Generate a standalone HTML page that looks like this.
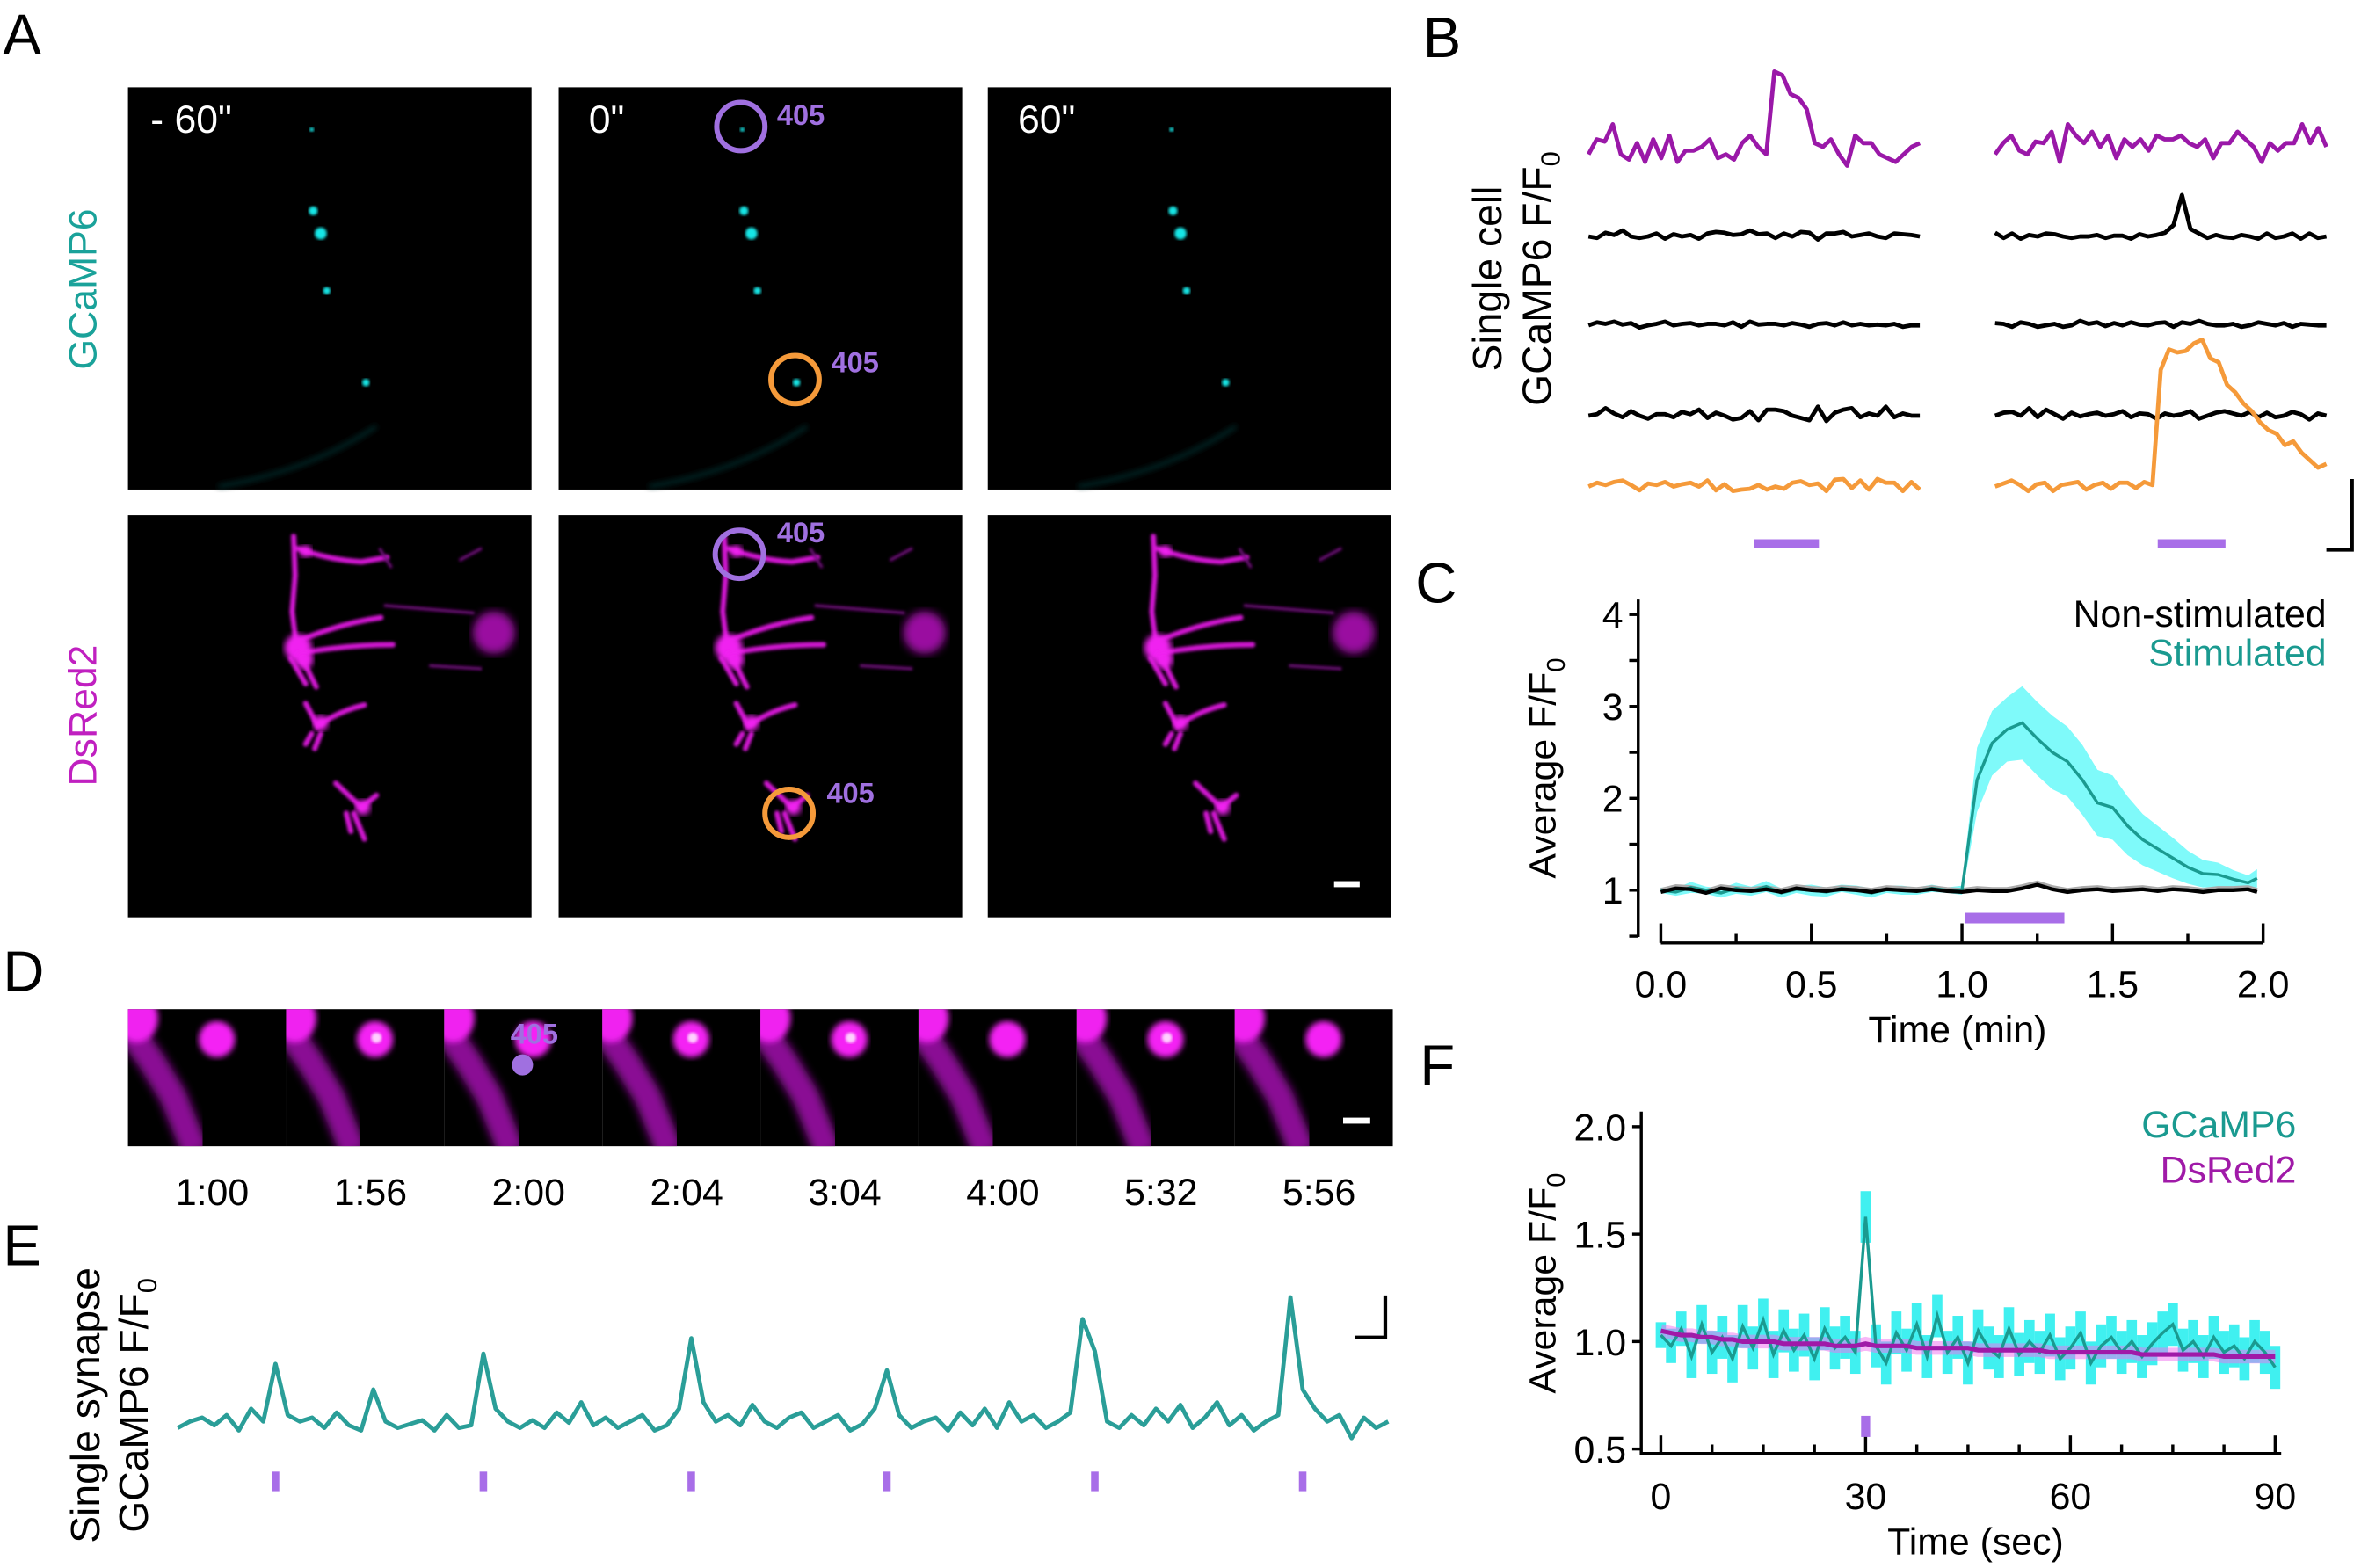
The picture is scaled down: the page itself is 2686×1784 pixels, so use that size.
<!DOCTYPE html>
<html><head><meta charset="utf-8"><style>
html,body{margin:0;padding:0;background:#fff}
svg{display:block}
text{font-family:"Liberation Sans",sans-serif}
</style></head><body>
<svg id="fig" width="2686" height="1784" viewBox="0 0 1568 1041" preserveAspectRatio="none" xmlns="http://www.w3.org/2000/svg" font-family="Liberation Sans, sans-serif">
<defs>
<filter id="blur2"><feGaussianBlur stdDeviation="2"/></filter>
<filter id="blur1"><feGaussianBlur stdDeviation="1"/></filter>
<filter id="blur3"><feGaussianBlur stdDeviation="3"/></filter>
<filter id="blur5"><feGaussianBlur stdDeviation="5"/></filter>
</defs>
<g id="panelA"></g>
<g id="panelB"></g>
<g id="panelC"></g>
<g id="panelD"></g>
<g id="panelE"></g>
<g id="panelF"></g>
</svg>
<script>
// ---- Panel C data ----
const cTime=[0,0.05,0.1,0.15,0.2,0.25,0.3,0.35,0.4,0.45,0.5,0.55,0.6,0.65,0.7,0.75,0.8,0.85,0.9,0.95,1.0,1.05,1.1,1.15,1.2,1.25,1.3,1.35,1.4,1.45,1.5,1.55,1.6,1.65,1.7,1.75,1.8,1.85,1.9,1.95,1.98];
const cStim=[1.0,0.98,1.03,1.0,0.97,1.02,0.99,1.04,0.97,1.01,1.0,0.98,1.02,1.0,0.97,1.01,1.0,0.99,1.02,1.0,1.0,2.2,2.6,2.75,2.82,2.65,2.5,2.4,2.2,1.95,1.9,1.7,1.55,1.45,1.35,1.25,1.18,1.17,1.12,1.08,1.13];
const cStimErr=[0.03,0.04,0.06,0.04,0.05,0.06,0.05,0.06,0.05,0.04,0.06,0.05,0.04,0.05,0.05,0.04,0.05,0.04,0.04,0.03,0.05,0.35,0.35,0.35,0.4,0.4,0.4,0.38,0.38,0.36,0.35,0.32,0.28,0.25,0.22,0.18,0.15,0.13,0.1,0.08,0.1];
const cNon=[0.98,1.02,1.01,0.97,1.02,1.0,0.99,1.01,0.98,1.02,1.0,0.99,1.01,1.0,0.98,1.01,1.0,0.99,1.01,0.99,0.98,1.0,0.99,0.99,1.02,1.06,1.01,0.98,1.0,1.01,0.99,1.0,1.01,0.99,1.01,1.0,0.98,1.0,1.0,1.01,0.98];
const cYTicks=[1,2,3,4];
const cXTicks=[0,0.5,1.0,1.5,2.0];
const cXLabels=["0.0","0.5","1.0","1.5","2.0"];
// ---- Panel F data ----
const fTime=[0,1.5,3,4.5,6,7.5,9,10.5,12,13.5,15,16.5,18,19.5,21,22.5,24,25.5,27,28.5,30,31.5,33,34.5,36,37.5,39,40.5,42,43.5,45,46.5,48,49.5,51,52.5,54,55.5,57,58.5,60,61.5,63,64.5,66,67.5,69,70.5,72,73.5,75,76.5,78,79.5,81,82.5,84,85.5,87,88.5,90];
const fG=[1.03,0.98,1.06,0.93,1.08,0.95,1.02,0.92,1.07,0.97,1.1,0.94,1.05,0.96,1.03,0.92,1.06,0.97,1.02,0.95,1.58,0.98,0.9,1.04,0.96,1.08,0.93,1.12,0.95,1.02,0.9,1.05,0.97,0.93,1.06,0.94,1.0,0.95,1.03,0.92,0.97,1.04,0.9,0.98,1.02,0.95,1.0,0.93,0.99,1.04,1.08,0.96,1.0,0.93,1.02,0.95,0.98,0.92,1.0,0.95,0.88];
const fGErr=[0.06,0.08,0.08,0.1,0.09,0.1,0.1,0.11,0.1,0.1,0.1,0.11,0.1,0.1,0.1,0.1,0.1,0.1,0.1,0.1,0.12,0.1,0.1,0.1,0.1,0.1,0.1,0.1,0.1,0.1,0.1,0.1,0.1,0.1,0.1,0.1,0.1,0.1,0.1,0.1,0.1,0.1,0.1,0.1,0.1,0.1,0.1,0.1,0.1,0.1,0.1,0.1,0.1,0.1,0.1,0.1,0.1,0.1,0.1,0.1,0.1];
const fD=[1.05,1.04,1.03,1.03,1.02,1.02,1.01,1.01,1.0,1.0,1.0,1.0,0.99,0.99,0.99,0.99,0.99,0.98,0.98,0.98,0.99,0.98,0.98,0.98,0.98,0.97,0.97,0.97,0.97,0.97,0.97,0.96,0.96,0.96,0.96,0.96,0.96,0.96,0.95,0.95,0.95,0.95,0.95,0.95,0.95,0.95,0.95,0.94,0.94,0.94,0.94,0.94,0.94,0.94,0.94,0.93,0.93,0.93,0.93,0.93,0.93];
const fYTicks=[0.5,1.0,1.5,2.0];
const fYLabels=["0.5","1.0","1.5","2.0"];
const fXTicks=[0,30,60,90];
// ---- Panel E data ----
const eVals=[1.0,1.05,1.08,1.02,1.1,0.98,1.15,1.05,1.5,1.1,1.05,1.08,1.0,1.12,1.02,0.98,1.3,1.05,1.0,1.03,1.06,0.98,1.1,1.0,1.02,1.58,1.15,1.05,1.0,1.06,1.0,1.12,1.04,1.2,1.02,1.08,1.0,1.05,1.1,0.98,1.02,1.15,1.7,1.2,1.05,1.1,1.02,1.18,1.05,1.0,1.08,1.12,1.0,1.05,1.1,0.98,1.03,1.15,1.45,1.1,1.0,1.05,1.08,0.98,1.12,1.02,1.15,1.0,1.2,1.05,1.1,1.0,1.05,1.12,1.85,1.6,1.05,1.0,1.1,1.02,1.15,1.05,1.18,1.0,1.08,1.2,1.02,1.1,0.98,1.05,1.1,2.02,1.3,1.15,1.05,1.1,0.92,1.08,1.0,1.05];
const eStim=[8,25,42,58,75,92];
// ---- Panel B data ----
const bPL=[-.05,.15,.12,.35,-.05,-.12,.1,-.15,.15,-.1,.2,-.15,0,0,.05,.15,-.1,-.05,-.12,.1,.2,.05,-.05,1.05,1.0,.75,.7,.55,.1,.05,.15,-.05,-.2,.2,.1,.1,-.05,-.1,-.15,-.05,.05,0.1];
const bPR=[-.05,.1,.2,0,-.05,.12,.1,.25,-.15,.35,.2,.1,.25,.05,.2,-.1,.15,.05,.15,0,.2,.15,.15,.2,.1,.05,.15,-.1,.1,.1,.25,.15,.05,-.15,.1,0,.1,.1,.35,.1,.3,.05];
const bK1L=[0,-.02,.05,.02,.08,0,-.02,0,.04,-.03,.03,0,.02,-.03,.04,.06,.05,.02,.03,.08,.03,.04,-.02,.04,0,.06,.05,-.04,.04,.04,.06,0,.02,.04,0,-.02,.04,.03,.02,0];
const bK1R=[.05,-.02,.04,-.03,.02,0,.04,.03,0,-.02,0,0,.02,-.02,.01,.01,-.03,.03,0,.02,.05,.15,.55,.1,.04,-.02,.02,-.01,-.02,.02,0,-.03,.04,-.02,0,.04,-.03,.04,-.02,0];
const bK2L=[0,.04,.02,.05,.01,.03,-.03,0,.02,.05,0,.02,.03,0,.02,.02,.0,.04,-.02,.05,.01,.02,.02,0,.03,.01,-.02,.02,.03,0,.04,0,.02,0,.01,0,.02,-.02,0,0];
const bK2R=[.03,.02,-.02,.04,.02,-.02,0,.02,-.02,0,.06,.02,.04,-.01,.03,.0,.04,.01,.0,.03,.04,-.02,.04,.02,.06,.02,0,.0,.02,-.02,.0,.04,.02,0,.03,-.02,.02,.01,0,0];
const bK3L=[0,.02,.1,.03,-.02,.06,0,-.04,.02,.02,-.02,.05,.02,.08,-.03,.04,0,-.05,-.03,.06,-.06,.08,.08,.06,0,-.03,-.06,.12,-.07,.04,.08,.1,-.02,.03,0,.12,-.02,.03,0,0];
const bK3R=[0,.04,.05,0,.1,-.02,.08,.02,-.04,.04,-.01,.02,.04,0,.02,.06,-.02,.03,.02,-.04,.03,0,.02,.06,-.04,0,.04,.06,.03,0,.05,-.02,.04,-.02,.0,.05,.02,-.05,.03,.0];
const bOL=[0,.05,.02,.06,.08,.02,-.05,.04,.02,.06,0,.03,.05,.0,.08,-.05,.03,-.06,-.04,-.03,.02,-.04,0,-.03,.05,.07,.02,.04,-.06,.09,.1,-.02,.08,-.04,.1,.05,.05,-.06,.06,-.04];
const bOR=[0,.04,.08,.02,-.06,.03,.05,-.06,.02,.04,.06,-.04,.02,.05,-.03,.05,.05,-.02,.06,.02,1.55,1.82,1.78,1.8,1.9,1.95,1.7,1.65,1.35,1.25,1.1,1.0,.85,.75,.7,.55,.6,.45,.35,.25,.3];

const NS="http://www.w3.org/2000/svg";
function mk(parent,tag,attrs,text){const e=document.createElementNS(NS,tag);for(const k in attrs)e.setAttribute(k,attrs[k]);if(text!==undefined)e.textContent=text;parent.appendChild(e);return e;}
function pathD(xs,ys){return xs.map((x,i)=>(i?'L':'M')+x.toFixed(2)+' '+ys[i].toFixed(2)).join(' ');}

// ======== Panel A ========
const A=document.getElementById('panelA');
let t=mk(A,'text',{x:2,y:36,'font-size':38});t.textContent='A';

const cols=[85,371,656], rowsY=[58,342], W=268,H=267;
const timeLabels=["- 60\"","0\"","60\""];
const dots=[[122,28,1.5],[123,82,3],[128,97,4],[132,135,2.5],[158,196,2.5]];
cols.forEach((cx,ci)=>{
  rowsY.forEach((ry,ri)=>{
    const g=mk(A,'g',{});
    
    
    mk(g,'rect',{x:cx,y:ry,width:W,height:H,fill:'#000'});
    if(ri===0){
      dots.forEach(d=>mk(g,'circle',{cx:cx+d[0],cy:ry+d[1],r:d[2],fill:'#19e6e6',filter:'url(#blur1)'}));
      mk(g,'path',{d:`M${cx+60} ${ry+265} Q${cx+120} ${ry+255} ${cx+165} ${ry+225}`,stroke:'#063838',fill:'none','stroke-width':2,filter:'url(#blur2)'});
    } else {
      const mg=mk(g,'g',{stroke:'#d414d4',fill:'none','stroke-width':3.5,filter:'url(#blur1)','stroke-linecap':'round'});
      const br=[
        `M${cx+110} ${ry+14} L${cx+111} ${ry+40} L${cx+109} ${ry+64} L${cx+112} ${ry+88}`,
        `M${cx+112} ${ry+22} Q${cx+135} ${ry+30} ${cx+155} ${ry+31} L${cx+172} ${ry+28}`,
        `M${cx+112} ${ry+84} Q${cx+140} ${ry+72} ${cx+168} ${ry+68}`,
        `M${cx+112} ${ry+92} Q${cx+145} ${ry+86} ${cx+176} ${ry+86}`,
        `M${cx+108} ${ry+95} L${cx+118} ${ry+112} M${cx+114} ${ry+92} L${cx+125} ${ry+114}`,
        `M${cx+118} ${ry+125} L${cx+126} ${ry+140} Q${cx+140} ${ry+130} ${cx+157} ${ry+126}`,
        `M${cx+122} ${ry+145} L${cx+118} ${ry+152} M${cx+128} ${ry+145} L${cx+124} ${ry+155}`,
        `M${cx+138} ${ry+178} L${cx+155} ${ry+194} L${cx+165} ${ry+186} M${cx+150} ${ry+198} L${cx+157} ${ry+215} M${cx+145} ${ry+198} L${cx+148} ${ry+210}`
      ];
      br.forEach(d=>mk(mg,'path',{d:d}));
      [[118,24,4],[113,88,9],[117,96,6],[128,138,5],[156,194,5]].forEach(s=>mk(g,'circle',{cx:cx+s[0],cy:ry+s[1],r:s[2],fill:'#f020f0',filter:'url(#blur2)'}));
      mk(g,'circle',{cx:cx+243,cy:ry+78,r:14,fill:'#9a0ea0',filter:'url(#blur3)'});
      const fg=mk(g,'g',{stroke:'#70087a','stroke-width':2,fill:'none',filter:'url(#blur1)'});
      mk(fg,'path',{d:`M${cx+170} ${ry+60} L${cx+230} ${ry+65} M${cx+200} ${ry+100} L${cx+235} ${ry+102} M${cx+220} ${ry+30} L${cx+235} ${ry+22} M${cx+167} ${ry+22} L${cx+175} ${ry+35}`});
    }
  });
  t=mk(A,'text',{x:cx+ (ci===0?15:20),y:88,'font-size':26,fill:'#fff'});t.textContent=timeLabels[ci];
  
});
[[492,84,'#a070e0',516,77],[528,252,'#f59a3a',552,241],[491,368,'#a070e0',516,354],[524,540,'#f59a3a',549,527]].forEach((c,i)=>{
  const ci=mk(A,'circle',{cx:c[0],cy:c[1],r:16,fill:'none',stroke:c[2],'stroke-width':3.5});
  
  const tt=mk(A,'text',{x:c[3],y:c[4]+6,'font-size':19,'font-weight':'bold',fill:'#a070e0'},'405');
  
});
let sb=mk(A,'rect',{x:886,y:585,width:17,height:4,fill:'#fff'});

t=mk(A,'text',{transform:'translate(64,192) rotate(-90)','text-anchor':'middle','font-size':26,fill:'#1aa29a'},'GCaMP6');

t=mk(A,'text',{transform:'translate(64,475) rotate(-90)','text-anchor':'middle','font-size':26,fill:'#c020c0'},'DsRed2');


// ======== Panel B ========
const B=document.getElementById('panelB');
t=mk(B,'text',{x:945,y:38,'font-size':38},'B');

t=mk(B,'text',{transform:'translate(997,185) rotate(-90)','text-anchor':'middle','font-size':27},'Single cell');

t=mk(B,'text',{transform:'translate(1030,185) rotate(-90)','text-anchor':'middle','font-size':27},'GCaMP6 F/F');

mk(t,'tspan',{'font-size':18,dy:6},'0');
const bRows=[[bPL,bPR,100,'#9a18a8','#9a18a8'],[bK1L,bK1R,157,'#000','#000'],[bK2L,bK2R,216,'#000','#000'],[bK3L,bK3R,276,'#000','#000'],[bOL,bOR,323,'#f59a3a','#f59a3a']];
const bScale=50;
bRows.forEach((r,ri)=>{
  [[r[0],1055],[r[1],1325]].forEach((s,si)=>{
    const xs=s[0].map((v,i)=>s[1]+i*220/(s[0].length-1));
    const ys=s[0].map(v=>r[2]-v*bScale);
    const p=mk(B,'path',{d:pathD(xs,ys),fill:'none',stroke:r[3+si],'stroke-width':2.8,'stroke-linejoin':'round'});
    
    
  });
});
[[1165,1208],[1433,1478]].forEach((b,i)=>{const r=mk(B,'rect',{x:b[0],y:358,width:b[1]-b[0],height:6,fill:'#a86ee8'});
});
sb=mk(B,'path',{d:'M1562 318 L1562 365 L1545 365',fill:'none',stroke:'#000','stroke-width':2.5});


// ======== Panel C ========
const C=document.getElementById('panelC');
t=mk(C,'text',{x:940,y:400,'font-size':38},'C');

const cx0=1103,cx1=1503,cy1=591,cpu=61;
const cX=v=>cx0+v*(cx1-cx0)/2, cY=v=>cy1-(v-1)*cpu;
{
 const up=cTime.map((tt,i)=>[cX(tt),cY(cStim[i]+cStimErr[i])]);
 const dn=cTime.map((tt,i)=>[cX(tt),cY(cStim[i]-cStimErr[i])]).reverse();
 const d='M'+up.concat(dn).map(p=>p[0].toFixed(1)+' '+p[1].toFixed(1)).join(' L')+'Z';
 const b=mk(C,'path',{d:d,fill:'#7ffafa'});
 
 const b2=mk(C,'path',{d:pathD(cTime.map(cX),cNon.map(v=>cY(v+0.02))),fill:'none',stroke:'#aaa','stroke-width':3});
 
}
let p=mk(C,'path',{d:pathD(cTime.map(cX),cStim.map(cY)),fill:'none',stroke:'#1a9a90','stroke-width':2});

p=mk(C,'path',{d:pathD(cTime.map(cX),cNon.map(cY)),fill:'none',stroke:'#000','stroke-width':2.5});

let ax=mk(C,'path',{d:`M1088 398 L1088 622`,stroke:'#000','stroke-width':2,fill:'none'});

[0.5,1,1.5,2,2.5,3,3.5,4].forEach(v=>mk(C,'line',{x1:1082,x2:1088,y1:cY(v),y2:cY(v),stroke:'#000','stroke-width':2}));
cYTicks.forEach(v=>{const l=mk(C,'text',{x:1078,y:cY(v)+9,'text-anchor':'end','font-size':25},String(v));
});
ax=mk(C,'path',{d:`M${cx0} 626 L${cx1} 626`,stroke:'#000','stroke-width':2,fill:'none'});

[0,0.25,0.5,0.75,1,1.25,1.5,1.75,2].forEach(v=>mk(C,'line',{x1:cX(v),x2:cX(v),y1:626,y2:(v*4)%2===0?613:620,stroke:'#000','stroke-width':2}));
cXTicks.forEach((v,i)=>{const l=mk(C,'text',{x:cX(v),y:662,'text-anchor':'middle','font-size':25},cXLabels[i]);
});
t=mk(C,'text',{x:1300,y:692,'text-anchor':'middle','font-size':25},'Time (min)');

t=mk(C,'text',{transform:'translate(1033,510) rotate(-90)','text-anchor':'middle','font-size':25},'Average F/F');

mk(t,'tspan',{'font-size':17,dy:6},'0');
t=mk(C,'text',{x:1545,y:416,'text-anchor':'end','font-size':25},'Non-stimulated');

t=mk(C,'text',{x:1545,y:442,'text-anchor':'end','font-size':25,fill:'#1a9a90'},'Stimulated');

let sbar=mk(C,'rect',{x:cX(1.01),y:606,width:cX(1.34)-cX(1.01),height:7,fill:'#a86ee8'});


// ======== Panel D ========
const D=document.getElementById('panelD');
t=mk(D,'text',{x:2,y:658,'font-size':38},'D');

const dTimes=["1:00","1:56","2:00","2:04","3:04","4:00","5:32","5:56"];
const dBright=[0,1,0,1,1,0,1,0];
dTimes.forEach((tt,i)=>{
  const x=85+i*105;
  const g=mk(D,'g',{});
  
  mk(g,'rect',{x:x,y:670,width:105,height:91,fill:'#000'});
  const cp=mk(g,'clipPath',{id:'dclip'+i});
  mk(cp,'rect',{x:x,y:670,width:105,height:91});
  const gg=mk(g,'g',{'clip-path':'url(#dclip'+i+')'});
  mk(gg,'path',{d:`M${x+2} ${670+15} L${x+16} ${670+35} L${x+30} ${670+58} L${x+45} ${670+95}`,stroke:'#8a0a94','stroke-width':18,fill:'none',filter:'url(#blur3)'});
  mk(gg,'ellipse',{cx:x+6,cy:676,rx:14,ry:16,fill:'#f020f0',filter:'url(#blur2)'});
  mk(gg,'circle',{cx:x+59,cy:690,r:12,fill:'#f420f4',filter:'url(#blur2)'});
  if(dBright[i]) mk(gg,'circle',{cx:x+60,cy:689,r:3.5,fill:'#ffd0ff',filter:'url(#blur1)'});
  const l=mk(D,'text',{x:x+56,y:800,'text-anchor':'middle','font-size':25},tt);
  
});
let dc=mk(D,'circle',{cx:347,cy:707,r:7,fill:'#a070e0'});

t=mk(D,'text',{x:339,y:693,'font-size':19,'font-weight':'bold',fill:'#a070e0'},'405');

sb=mk(D,'rect',{x:892,y:742,width:18,height:4,fill:'#fff'});


// ======== Panel E ========
const E=document.getElementById('panelE');
t=mk(E,'text',{x:2,y:840,'font-size':38},'E');

t=mk(E,'text',{transform:'translate(66,933) rotate(-90)','text-anchor':'middle','font-size':27},'Single synapse');

t=mk(E,'text',{transform:'translate(98,933) rotate(-90)','text-anchor':'middle','font-size':27},'GCaMP6 F/F');

mk(t,'tspan',{'font-size':18,dy:6},'0');
const eX=i=>118+i*(922-118)/(eVals.length-1), eY=v=>948-(v-1)*85;
p=mk(E,'path',{d:pathD(eVals.map((v,i)=>eX(i)),eVals.map(eY)),fill:'none',stroke:'#2a9e98','stroke-width':2.8,'stroke-linejoin':'round'});

eStim.forEach(i=>{const r=mk(E,'rect',{x:eX(i)-2.5,y:977,width:5,height:13,fill:'#a86ee8'});
});
sb=mk(E,'path',{d:'M920 860 L920 888 L900 888',fill:'none',stroke:'#000','stroke-width':2.5});


// ======== Panel F ========
const F=document.getElementById('panelF');
t=mk(F,'text',{x:943,y:720,'font-size':38},'F');

const fX=v=>1103+v*(1511-1103)/90, fY=v=>962-(v-0.5)*(962-748)/1.5;
fTime.forEach((tt,i)=>{const r=mk(F,'rect',{x:fX(tt)-3.4,y:fY(fG[i]+fGErr[i]),width:6.8,height:fY(fG[i]-fGErr[i])-fY(fG[i]+fGErr[i]),fill:'#40f0f0'});
});
p=mk(F,'path',{d:pathD(fTime.map(fX),fD.map(fY)),fill:'none',stroke:'#f070f0','stroke-width':9,opacity:0.5});

p=mk(F,'path',{d:pathD(fTime.map(fX),fG.map(fY)),fill:'none',stroke:'#1a9a90','stroke-width':2});

p=mk(F,'path',{d:pathD(fTime.map(fX),fD.map(fY)),fill:'none',stroke:'#a01aa8','stroke-width':3});

ax=mk(F,'path',{d:'M1090 738 L1090 965 L1515 965',stroke:'#000','stroke-width':2,fill:'none'});

fYTicks.forEach((v,i)=>{mk(F,'line',{x1:1084,x2:1090,y1:fY(v),y2:fY(v),stroke:'#000','stroke-width':2});
const l=mk(F,'text',{x:1080,y:fY(v)+9,'text-anchor':'end','font-size':25},fYLabels[i]);
});
for(let v=0;v<=90;v+=7.5){mk(F,'line',{x1:fX(v),x2:fX(v),y1:965,y2:v%30===0?953:959,stroke:'#000','stroke-width':2});}
fXTicks.forEach(v=>{const l=mk(F,'text',{x:fX(v),y:1002,'text-anchor':'middle','font-size':25},String(v));
});
t=mk(F,'text',{x:1312,y:1032,'text-anchor':'middle','font-size':25},'Time (sec)');

t=mk(F,'text',{transform:'translate(1033,852) rotate(-90)','text-anchor':'middle','font-size':25},'Average F/F');

mk(t,'tspan',{'font-size':17,dy:6},'0');
t=mk(F,'text',{x:1525,y:755,'text-anchor':'end','font-size':25,fill:'#1a9a90'},'GCaMP6');

t=mk(F,'text',{x:1525,y:785,'text-anchor':'end','font-size':25,fill:'#a01aa8'},'DsRed2');

sbar=mk(F,'rect',{x:fX(30)-3,y:940,width:6,height:14,fill:'#a86ee8'});

</script>
</body></html>
